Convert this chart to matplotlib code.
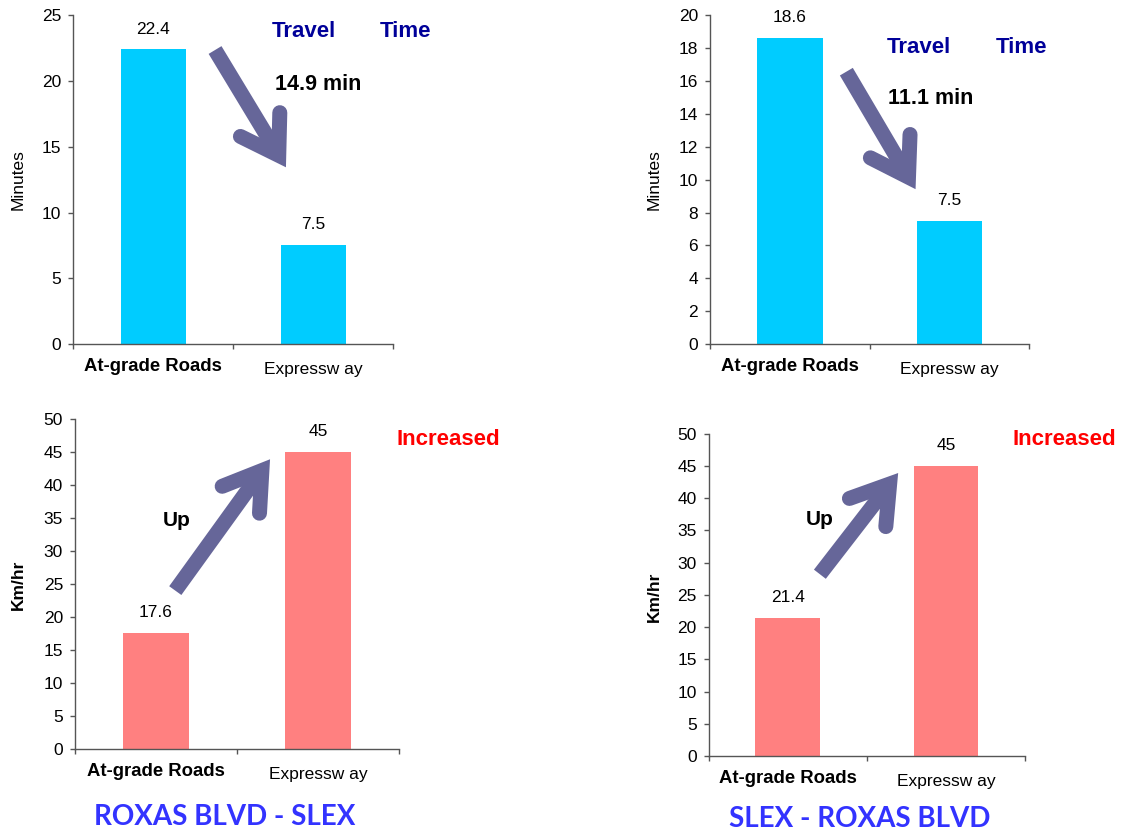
import numpy as np
import matplotlib.pyplot as plt
from matplotlib.lines import Line2D
from matplotlib.transforms import IdentityTransform

W, H, DPI = 1121, 832, 100

categories = ["At-grade Roads", "Expressw ay"]

# travel time in minutes
time_roxas_slex = [22.4, 7.5]
time_slex_roxas = [18.6, 7.5]
# average speed in km/hr
speed_roxas_slex = [17.6, 45]
speed_slex_roxas = [21.4, 45]

time_saved = ["14.9 min", "11.1 min"]
route_titles = ["ROXAS BLVD - SLEX", "SLEX - ROXAS BLVD"]

CYAN = "#00CCFF"
PINK = "#FF8080"
ARROW = "#666699"
NAVY = "#000099"
AXIS = "#555555"
TITLE_BLUE = "#3333FF"

plt.rcParams['font.family'] = ['Liberation Sans', 'DejaVu Sans']

fig = plt.figure(figsize=(W / DPI, H / DPI), dpi=DPI)


def fx(x):
    return x / W


def fy(y):
    return 1 - y / H


def rect(left, top, right, bottom):
    return [fx(left), fy(bottom), (right - left) / W, (bottom - top) / H]


def bar_panel(box, values, color, ymax, step):
    ax = fig.add_axes(box)
    x = np.arange(len(values))
    ax.bar(x, values, width=0.41, color=color)
    ax.set_xlim(-0.5, 1.5)
    ax.set_ylim(0, ymax)
    ax.set_yticks(np.arange(0, ymax + step / 2, step))
    ax.set_xticks([-0.5, 0.5, 1.5])
    ax.set_xticklabels([])
    for s in ["top", "right"]:
        ax.spines[s].set_visible(False)
    for s in ["left", "bottom"]:
        ax.spines[s].set_color(AXIS)
        ax.spines[s].set_linewidth(1.0)
    ax.tick_params(direction="out", length=3.6, width=1.0, color=AXIS,
                   labelsize=12.5, pad=5)
    for xi, v in zip(x, values):
        ax.annotate(f"{v:g}", xy=(xi, v), xytext=(0, 11.5),
                    textcoords="offset points", ha="center", va="baseline",
                    fontsize=12.5)
    for xi, label, weight, off in zip(x, categories, ["bold", "normal"], [16, 18.5]):
        ax.annotate(label, xy=(xi, 0), xytext=(0, -off),
                    textcoords="offset points", ha="center", va="center",
                    fontsize=13.3 if weight == "bold" else 12.5,
                    fontweight=weight)
    return ax


def block_arrow(ax, tail, tip, width=15, head_len=36, head_half=23):
    p0 = ax.transData.transform(tail)
    p1 = ax.transData.transform(tip)
    u = (p1 - p0) / np.hypot(*(p1 - p0))
    n = np.array([-u[1], u[0]])
    # pull the centre line back so the mitred point lands on the tip
    back = (width / 2) * np.hypot(head_len, head_half) / head_half
    c = p1 - u * back
    lw = width * 72 / DPI
    s_end = c - u * 4
    shaft = Line2D([p0[0], s_end[0]], [p0[1], s_end[1]], lw=lw, color=ARROW,
                   solid_capstyle="butt", transform=IdentityTransform())
    b1 = c - u * head_len + n * head_half
    b2 = c - u * head_len - n * head_half
    head = Line2D([b1[0], c[0], b2[0]], [b1[1], c[1], b2[1]], lw=lw, color=ARROW,
                  solid_capstyle="round", solid_joinstyle="miter",
                  transform=IdentityTransform())
    fig.add_artist(shaft)
    fig.add_artist(head)


# travel time panels
ax_tl = bar_panel(rect(73.3, 15.3, 393.3, 344), time_roxas_slex, CYAN, 25, 5)
ax_tr = bar_panel(rect(710, 15.3, 1029.3, 344), time_slex_roxas, CYAN, 20, 2)
# speed panels
ax_bl = bar_panel(rect(75, 419, 399, 749), speed_roxas_slex, PINK, 50, 5)
ax_br = bar_panel(rect(708.7, 433.7, 1025, 756), speed_slex_roxas, PINK, 50, 5)

block_arrow(ax_tl, (0.386, 22.36), (0.829, 13.44))
block_arrow(ax_tr, (0.354, 16.57), (0.7875, 9.42))
block_arrow(ax_bl, (0.119, 24.0), (0.704, 43.9))
block_arrow(ax_br, (0.203, 28.2), (0.698, 43.9))

# y axis titles
fig.text(fx(18.3), fy(179.7), "Minutes", rotation=90, ha="center", va="center", fontsize=12.5)
fig.text(fx(654.5), fy(179.7), "Minutes", rotation=90, ha="center", va="center", fontsize=12.5)
fig.text(fx(18.5), fy(585), "Km/hr", rotation=90, ha="center", va="center",
         fontsize=12.5, fontweight="bold")
fig.text(fx(654.5), fy(597), "Km/hr", rotation=90, ha="center", va="center",
         fontsize=12.5, fontweight="bold")

# travel time notes
for (xt, xm, yb), (xs, ys), saved in zip([(272, 380, 37), (887, 996, 53)],
                                         [(275, 90), (888, 104)], time_saved):
    fig.text(fx(xt), fy(yb), "Travel", ha="left", va="baseline", fontsize=16,
             fontweight="bold", color=NAVY)
    fig.text(fx(xm), fy(yb), "Time", ha="left", va="baseline", fontsize=16,
             fontweight="bold", color=NAVY)
    fig.text(fx(xs), fy(ys), saved, ha="left", va="baseline", fontsize=15.5,
             fontweight="bold")

# speed notes
for xi, (xu, yu) in zip([397, 1012], [(176.5, 526), (820, 525)]):
    fig.text(fx(xi), fy(445), "Increased", ha="left", va="baseline", fontsize=16,
             fontweight="bold", color="#FF0000")
    fig.text(fx(xu), fy(yu), "Up", ha="center", va="baseline", fontsize=15,
             fontweight="bold")

# route names
for (xc, yb), title in zip([(225, 825), (860, 827)], route_titles):
    fig.text(fx(xc), fy(yb), title, ha="center", va="baseline", fontsize=20,
             fontweight="bold", color=TITLE_BLUE, family=["Lato", "DejaVu Sans"])

fig.savefig("out.png", dpi=DPI)
